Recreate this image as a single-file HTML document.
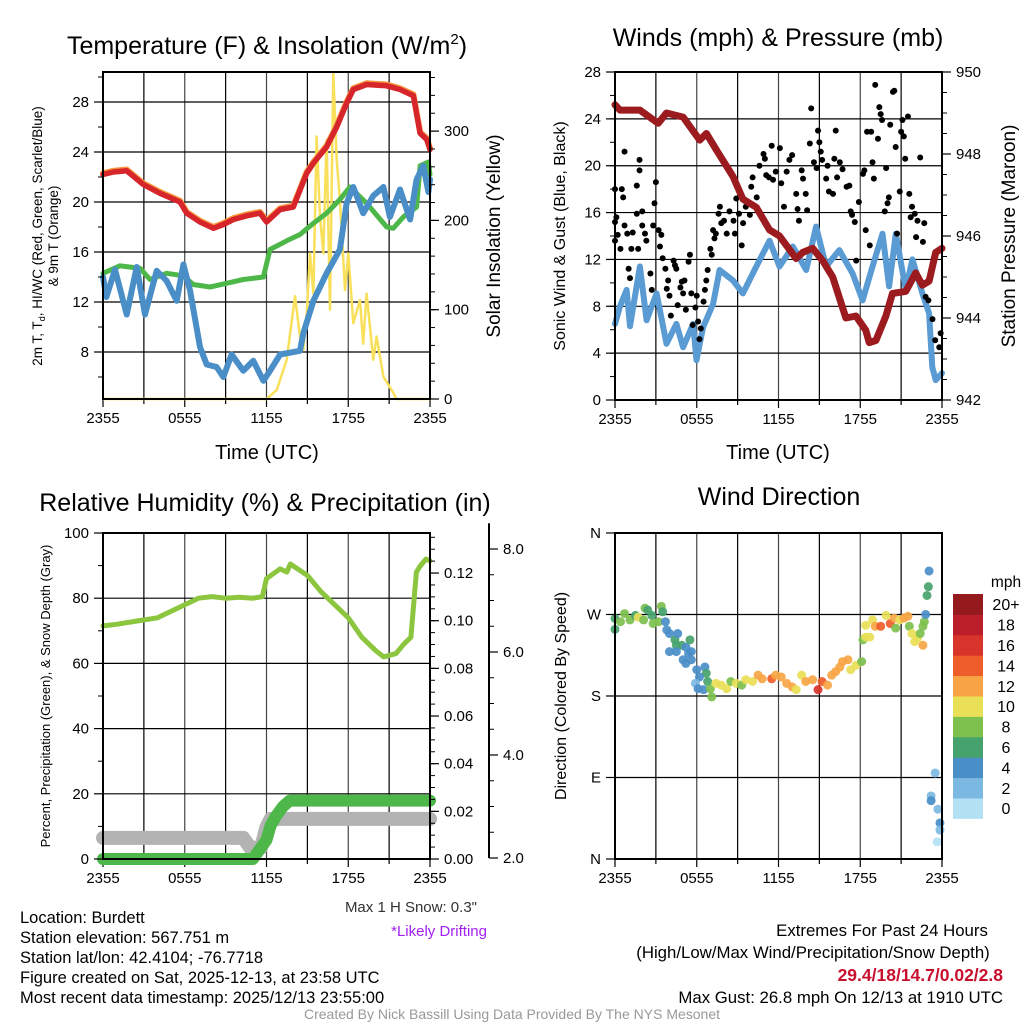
<!DOCTYPE html>
<html><head><meta charset="utf-8">
<style>
html,body{margin:0;padding:0;background:#fff;}
svg{display:block;font-family:"Liberation Sans",Arial,sans-serif;}
</style></head>
<body>
<svg id="chart" xmlns="http://www.w3.org/2000/svg" width="1024" height="1024" viewBox="0 0 1024 1024">
<rect width="1024" height="1024" fill="#fff"/>
<!-- titles -->
<text x="267" y="54" font-size="25" text-anchor="middle">Temperature (F) &amp; Insolation (W/m<tspan font-size="15" dy="-10">2</tspan><tspan dy="10">)</tspan></text>
<text x="778" y="46" font-size="25" text-anchor="middle">Winds (mph) &amp; Pressure (mb)</text>
<text x="265" y="511" font-size="25" text-anchor="middle">Relative Humidity (%) &amp; Precipitation (in)</text>
<text x="779" y="505" font-size="25" text-anchor="middle">Wind Direction</text>
<!-- axis titles -->
<text transform="translate(42,236) rotate(-90)" font-size="13.5" text-anchor="middle">2m T, T<tspan font-size="9" dy="3">d</tspan><tspan dy="-3">, HI/WC (Red, Green, Scarlet/Blue)</tspan></text>
<text transform="translate(58,236) rotate(-90)" font-size="13.5" text-anchor="middle">&amp; 9m T (Orange)</text>
<text transform="translate(500,236) rotate(-90)" font-size="19" text-anchor="middle">Solar Insolation (Yellow)</text>
<text transform="translate(565,236) rotate(-90)" font-size="16" text-anchor="middle">Sonic Wind &amp; Gust (Blue, Black)</text>
<text transform="translate(1015,236) rotate(-90)" font-size="19" text-anchor="middle">Station Pressure (Maroon)</text>
<text transform="translate(50,696) rotate(-90)" font-size="13" text-anchor="middle">Percent, Precipitation (Green), &amp; Snow Depth (Gray)</text>
<text transform="translate(566,696) rotate(-90)" font-size="16" text-anchor="middle">Direction (Colored By Speed)</text>
<text x="267" y="459" font-size="20" text-anchor="middle">Time (UTC)</text>
<text x="778" y="459" font-size="20" text-anchor="middle">Time (UTC)</text>
<!-- footer texts -->
<g font-size="16.5">
<text x="20" y="923">Location: Burdett</text>
<text x="20" y="943">Station elevation: 567.751 m</text>
<text x="20" y="963">Station lat/lon: 42.4104; -76.7718</text>
<text x="20" y="983">Figure created on Sat, 2025-12-13, at 23:58 UTC</text>
<text x="20" y="1003">Most recent data timestamp: 2025/12/13 23:55:00</text>
</g>
<text x="477" y="912" font-size="15" text-anchor="end" fill="#333">Max 1 H Snow: 0.3"</text>
<text x="487" y="936" font-size="15" text-anchor="end" fill="#a020f0">*Likely Drifting</text>
<text x="882" y="936" font-size="16.8" text-anchor="middle">Extremes For Past 24 Hours</text>
<text x="813" y="958" font-size="16.8" text-anchor="middle">(High/Low/Max Wind/Precipitation/Snow Depth)</text>
<text x="1003" y="981" font-size="17.5" font-weight="bold" text-anchor="end" fill="#c8102e">29.4/18/14.7/0.02/2.8</text>
<text x="1003" y="1003" font-size="16.8" text-anchor="end">Max Gust: 26.8 mph On 12/13 at 1910 UTC</text>
<text x="512" y="1019" font-size="14" text-anchor="middle" fill="#999">Created By Nick Bassill Using Data Provided By The NYS Mesonet</text>
</svg>
<script>
// ---------------- data ----------------
const xTickLabels = ["2355","0555","1155","1755","2355"];
// Panel 1
const tempHours = [0,0.76,1.74,2.96,4.18,5.65,6.14,7.12,8.1,8.83,9.57,10.54,11.52,12.01,13,13.97,14.95,15.44,16.41,17.15,17.88,18.37,19.35,20.82,21.8,22.78,23.27,23.76,24];
const tempValues = [22.2,22.4,22.5,21.4,20.7,20.0,19.1,18.4,17.9,18.2,18.6,18.9,19.1,18.4,19.4,19.6,22.3,23.1,24.4,26.0,27.9,29.0,29.4,29.3,29.0,28.5,25.5,25.0,24.2];
const dewHours = [0,1.25,2.72,3.45,4.67,5.9,6.63,7.85,9.07,10.3,11.77,12.26,13.48,14.46,15.44,16.41,17.39,18.13,19.35,20.82,21.3,22.04,23.02,23.27,23.88,24];
const dewValues = [14.3,14.9,14.7,13.8,14.3,14.1,13.4,13.2,13.5,13.8,14.0,16.2,16.9,17.4,18.3,19.1,20.2,21.2,19.9,18.0,17.9,18.8,19.6,22.9,23.2,22.2];
const wcHours = [0,0.25,0.88,1.74,2.47,3.08,3.94,4.67,5.41,5.9,6.39,7.12,7.61,8.34,8.83,9.44,10.3,11.03,11.77,12.26,13,14.46,14.7,15.44,16.41,17.39,17.88,18.37,19.1,19.84,20.58,21.06,21.8,22.54,23.02,23.51,23.88,24];
const wcValues = [14.0,12.4,14.6,11.0,14.8,11.0,14.5,13.7,12.1,15.0,12.9,8.4,7.0,6.8,6.0,7.8,6.5,7.3,5.7,6.5,7.8,8.1,9.5,12.1,14.3,16.2,19.9,21.2,19.1,20.5,21.2,18.8,21.0,18.6,21.8,22.9,20.8,21.8];
const solarHours = [0,12.01,12.75,13.48,14.09,14.46,14.7,14.95,15.19,15.44,15.68,15.93,16.17,16.41,16.66,16.9,17.15,17.39,17.76,18.0,18.37,18.86,19.1,19.35,19.84,20.08,20.58,21.3,21.55,24];
const solarValues = [0,0,10,44,115,70,55,96,163,118,294,204,163,290,100,365,268,223,122,163,85,111,62,118,44,70,25,7,0,0];
const tempTicks = [8,12,16,20,24,28];
const solarTicks = [0,100,200,300];
// Panel 2
const windHours = [0,0.37,0.85,1.1,1.83,2.32,3.05,3.78,4.51,5.0,5.73,5.98,6.46,7.2,7.68,8.66,9.39,10.37,11.34,12.07,13.05,14.03,14.76,15.49,16.46,17.44,18.17,18.9,19.63,20.12,20.61,21.34,21.83,22.56,23.05,23.29,23.54,24];
const windValues = [6.5,8.0,9.4,6.3,11.4,6.8,9.1,4.8,6.5,4.5,6.5,3.4,6.2,8.2,11.1,10.2,9.1,11.4,13.6,11.4,13.1,11.1,14.8,11.4,12.8,10.8,8.5,11.4,14.2,9.7,14.2,9.4,12.0,9.1,7.4,2.8,1.7,2.3];
const pressHours = [0,0.37,1.83,3.17,3.78,5.0,6.22,6.71,7.44,8.66,9.39,10.37,11.34,12.07,13.29,13.78,14.51,15.24,15.98,16.95,17.68,18.41,18.66,19.15,19.88,20.37,21.34,22.07,22.56,23.05,23.54,24];
const pressValues = [949.2,949.07,949.07,948.75,949.0,948.9,948.34,948.5,948.1,947.45,946.9,946.7,946.15,946.0,945.45,945.6,945.7,945.4,945.0,944.0,944.05,943.7,943.4,943.45,944.05,944.6,944.65,945.1,944.8,944.9,945.6,945.7];
const gustHours = [0,0,0.1,0.4,0.2,0,0.5,0.6,0.7,0.7,0.9,1.0,1.1,1.2,1.3,1.6,1.6,1.7,1.8,1.8,2.0,2.0,2.2,2.3,2.6,2.7,2.8,2.9,3.0,3.2,3.3,3.4,3.5,3.7,3.8,3.9,4.0,4.1,4.3,4.4,4.5,4.6,4.8,4.9,5.0,5.1,5.2,5.4,5.5,5.6,5.7,5.9,6.0,6.1,6.2,6.3,6.5,6.6,6.7,6.8,7.0,7.1,7.2,7.3,7.4,7.6,7.7,7.8,8.0,8.2,8.4,8.7,8.8,8.9,9.1,9.3,9.4,9.6,9.9,10.0,10.1,10.4,10.6,10.9,11.0,11.1,11.3,11.5,11.6,11.8,12.1,12.2,12.4,12.6,12.8,13.0,13.3,13.4,13.5,13.7,13.8,14.0,14.1,14.3,14.4,14.6,14.8,14.9,15.0,15.1,15.2,15.5,15.6,15.7,16.0,16.1,16.2,16.3,16.5,16.7,17.0,17.2,17.3,17.4,17.6,17.7,17.9,18.2,18.3,18.4,18.5,18.7,18.8,18.9,19.0,19.1,19.3,19.4,19.5,19.6,19.8,19.9,20.0,20.1,20.2,20.4,20.5,20.6,20.7,20.9,21.0,21.1,21.2,21.3,21.5,21.6,21.7,21.8,22.0,22.1,22.2,22.4,22.6,22.7,22.8,23.0,23.3,23.5,23.8,23.9];
const gustValues = [15.2,13.6,15.6,12.9,14.1,18.0,18.0,17.3,21.2,14.9,14.2,11.2,10.4,12.9,14.3,15.9,18.3,12.9,20.5,19.6,16.1,14.9,14.2,13.6,10.8,9.4,14.9,16.8,18.6,14.5,13.1,14.1,12.1,11.2,9.5,10.2,8.9,7.2,11.9,11.5,11.2,8.1,9.6,10.1,9.1,10.2,7.7,11.8,12.4,9.1,6.4,7.9,8.9,6.7,5.2,6.1,8.4,9.4,10.2,11.1,12.9,12.4,14.5,13.8,14.2,15.9,16.5,15.1,15.3,14.2,16.1,15.3,14.2,17.2,15.9,13.2,15.1,16.5,15.8,18.2,19.0,17.3,20.0,21.0,20.6,19.2,19.0,21.7,18.8,19.5,21.5,18.5,16.5,19.5,20.5,20.9,17.6,16.3,15.3,19.6,18.9,17.6,16.2,21.9,24.9,20.3,19.8,23.0,22.0,21.2,20.5,18.9,20.0,17.8,17.6,20.6,23.0,19.0,20.3,19.7,18.2,18.3,16.1,15.8,15.2,11.9,16.9,19.3,19.6,14.5,22.9,13.2,22.9,20.3,18.9,26.9,22.3,25.0,24.4,23.9,16.1,19.8,16.8,17.3,23.5,26.3,26.4,21.6,14.2,17.8,22.9,23.9,22.5,20.6,24.2,17.6,15.6,16.5,15.9,13.9,15.3,20.7,13.5,15.1,8.8,8.5,6.9,5.1,4.5,5.7];
const windTicks = [0,4,8,12,16,20,24,28];
const pressTicks = [942,944,946,948,950];
// Panel 3
const rhHours = [0,1,2.5,4,5,6,7,8,9,10,11,11.7,12,13,13.5,13.75,15,16,17,18,19,20,20.6,21.5,22.1,22.6,23.0,23.3,23.7,24];
const rhValues = [71.5,72,73,74,76,78,80,80.5,80,80.3,80,80.5,86,89,88,90.5,87,82,78,74,68,64,62,63,66,68,88,90,92,91.5];
const precipHours = [0,11.0,11.5,12,12.3,12.7,13.2,13.7,24];
const precipValues = [0,0,0.004,0.008,0.014,0.018,0.022,0.0245,0.0245];
const snowHours = [0,10.3,10.8,11.6,12.0,12.3,24];
const snowValues = [2.39,2.39,2.2,2.2,2.6,2.76,2.76];
const driftHours = [11.7,11.9,12.1];
const driftValues = [2.3,2.45,2.6];
const pctTicks = [0,20,40,60,80,100];
const precipTicks = [0,0.02,0.04,0.06,0.08,0.10,0.12];
const precipTickLabels = ["0.00","0.02","0.04","0.06","0.08","0.10","0.12"];
const snowTicks = [2,4,6,8];
const snowTickLabels = ["2.0","4.0","6.0","8.0"];
// Panel 4
const dirHours = [0,0,0.4,0.7,1.1,1.5,1.7,2.1,2.2,2.4,2.7,2.8,3.2,3.4,3.5,3.7,3.8,4.0,4.4,4.6,4.5,4.9,5.2,5.5,4.0,4.5,5.4,5.6,5.0,5.2,5.6,6.0,6.6,6.7,6.2,5.9,6.1,6.5,6.8,7.0,7.1,7.4,7.8,8.2,8.5,8.9,9.3,9.6,10.1,10.5,10.8,11.5,11.8,12.2,12.6,13.0,13.3,13.7,14.0,14.5,14.9,15.2,15.6,15.9,16.2,16.5,16.7,17.1,17.3,17.7,18.1,18.2,18.4,18.7,18.4,18.9,19.1,19.5,19.9,20.2,20.5,20.6,20.9,21.2,21.5,21.6,21.8,22.0,22.2,22.4,22.6,22.7,22.8,22.9,22.6,23.05,23.0,23.5,23.2,23.2,23.7,23.85,23.85,23.65];
const dirValues = [265.7,253.6,262,271,264,269,267,264,277,275,269,260,262,279,273,262,253,249,242,249,236,236,234,242,229,229,227,229,220,216,220,209,212,205,201,194,188,187,196,188,179,194,192,188,196,194,192,198,196,203,199,199,203,201,194,190,187,203,196,198,187,196,192,203,207,212,218,220,209,214,218,242,245,245,258,264,257,257,269,260,266,255,264,266,268,257,249,240,244,249,257,262,270,291,236,318,300.7,95,69.6,64.4,55,39.8,32,19];
const dirSpeeds = [7,6.5,8.5,8.5,8.5,6.5,10.5,8.5,8.5,6.5,6.5,8.5,8.5,8.5,6.5,4.5,4.5,4.5,6.5,4.5,6.5,6.5,4.5,6.5,4.5,4.5,4.5,4.5,4.5,4.5,4.5,4.5,4.5,6.5,4.5,2.5,4.5,4.5,6.5,8.5,8.5,10.5,10.5,10.5,8.5,10.5,8.5,10.5,10.5,12.5,12.5,14.5,12.5,12.5,12.5,12.5,10.5,10.5,12.5,12.5,16.5,14.5,12.5,12.5,12.5,12.5,12.5,12.5,10.5,10.5,8.5,8.5,10.5,10.5,10.5,10.5,12.5,14.5,10.5,14.5,12.5,8.5,10.5,12.5,12.5,8.5,10.5,10.5,10.5,8.5,8.5,8.5,4.5,6.5,12.5,4.5,6.5,2.5,2.5,4.5,2.5,4.5,2.5,0.5];
const dirTicks = [0,90,180,270,360];
const dirTickLabels = ["N","E","S","W","N"];
const colorBins = ["0","2","4","6","8","10","12","14","16","18","20+"];
const colorBinColors = ["#b5e1f5","#7cb9e2","#4a8ec8","#46a36d","#7dc04e","#e9e057","#f7a544","#ef5d2b","#d8342b","#bc1e2a","#941a1d"];

// ---------------- helpers ----------------
const NS = "http://www.w3.org/2000/svg";
const svg = document.getElementById("chart");
function mk(tag, attrs, parent) {
  const e = document.createElementNS(NS, tag);
  for (const k in attrs) e.setAttribute(k, attrs[k]);
  (parent || svg).appendChild(e);
  return e;
}
function txt(s, attrs) { const e = mk("text", attrs); e.textContent = s; return e; }
function xs(P, h) { return P.L + h * (P.R - P.L) / 24; }
function linePath(P, hours, vals, yf) {
  return hours.map((h, i) => (i ? "L" : "M") + xs(P, h).toFixed(1) + " " + yf(vals[i]).toFixed(1)).join(" ");
}
const P1 = {L:103, R:430, T:72, B:399};
const P2 = {L:615, R:942, T:72, B:400};
const P3 = {L:103, R:430, T:533, B:859};
const P4 = {L:615, R:942, T:533, B:859};
const yTemp = v => 352 - (v - 8) * 12.5;
const ySolar = v => 399 - v * 0.893;
const yWind = v => 400 - v * 11.714;
const yPress = v => 400 - (v - 942) * 41;
const yPct = v => 859 - v * 3.26;
const yPrecip = v => 859 - v * 2383;
const ySnow = v => 858 - (v - 2) * 51.5;
const yDir = v => 859 - v * 0.9056;

function frame(P, id, hGrid) {
  for (let h = 3; h < 24; h += 3) {
    const g = mk("line", {x1:xs(P,h), x2:xs(P,h), y1:P.T, y2:P.B, stroke:(h%6===0?"#444":"#000"), "stroke-width":1.2});
    
    
  }
  hGrid.forEach(y => {
    const g = mk("line", {x1:P.L, x2:P.R, y1:y, y2:y, stroke:"#000", "stroke-width":1.2});
    
    
  });
  for (let h = 0; h <= 24; h += 3) {
    const t = mk("line", {x1:xs(P,h), x2:xs(P,h), y1:P.B, y2:P.B + (h%6===0?8:5), stroke:"#000", "stroke-width":1.2});
    
    
  }
  xTickLabels.forEach((s, i) => {
    const t = txt(s, {x:xs(P, i*6), y:P.B + 24, "font-size":15, "text-anchor":"middle"});
    
    
  });
}
function border(P, id) {
  const b = mk("rect", {x:P.L, y:P.T, width:P.R-P.L, height:P.B-P.T, fill:"none", stroke:"#000", "stroke-width":2});
  
  
}
function yAxis(x, vals, labels, yf, side, id, minorVals, fs) {
  const d = side === "left" ? -1 : 1;
  (minorVals || []).forEach(v => {
    const t = mk("line", {x1:x, x2:x + d*5, y1:yf(v), y2:yf(v), stroke:"#000", "stroke-width":1});
    
    
  });
  vals.forEach((v, i) => {
    const t = mk("line", {x1:x, x2:x + d*9, y1:yf(v), y2:yf(v), stroke:"#000", "stroke-width":1.2});
    
    
    const l = txt(labels[i], {x: x + d*14, y: yf(v) + 5, "font-size": fs || 15, "text-anchor": side === "left" ? "end" : "start"});
    
    
  });
}
function range(a, b, s) { const r = []; for (let v = a; v <= b + 1e-9; v += s) r.push(+v.toFixed(4)); return r; }
function speedColor(s) { return colorBinColors[Math.min(10, Math.max(0, Math.floor(s / 2)))]; }

// ---------------- Panel 1 ----------------
frame(P1, "temperature-panel", tempTicks.map(yTemp));
let e;
e = mk("path", {d:linePath(P1, solarHours, solarValues, ySolar), fill:"none", stroke:"#f9e05a", "stroke-width":2.5, "stroke-linejoin":"round"});


e = mk("path", {d:linePath(P1, dewHours, dewValues, yTemp), fill:"none", stroke:"#4db849", "stroke-width":5, "stroke-linejoin":"round", "stroke-linecap":"round"});


e = mk("path", {d:linePath(P1, wcHours, wcValues, yTemp), fill:"none", stroke:"#4a8ec8", "stroke-width":6, "stroke-linejoin":"round", "stroke-linecap":"round"});


e = mk("path", {d:linePath(P1, tempHours, tempValues.map(v => v + 0.1), yTemp), fill:"none", stroke:"#f7953c", "stroke-width":6, "stroke-linejoin":"round", "stroke-linecap":"round"});


e = mk("path", {d:linePath(P1, tempHours, tempValues, yTemp), fill:"none", stroke:"#d7262b", "stroke-width":5.5, "stroke-linejoin":"round", "stroke-linecap":"round"});


border(P1, "temperature-panel");
yAxis(P1.L, tempTicks, tempTicks.map(String), yTemp, "left", "temperature-y-axis", range(6, 30, 2));
yAxis(P1.R, solarTicks, solarTicks.map(String), ySolar, "right", "solar-y-axis", range(0, 360, 20));

// ---------------- Panel 2 ----------------
frame(P2, "winds-panel", windTicks.slice(1, -1).map(yWind));
e = mk("path", {d:linePath(P2, windHours, windValues, yWind), fill:"none", stroke:"#5a9bd4", "stroke-width":6, "stroke-linejoin":"round", "stroke-linecap":"round"});


gustHours.forEach((h, i) => {
  const c = mk("circle", {cx:xs(P2, h), cy:yWind(gustValues[i]), r:3, fill:"#000"});
  
  
});
e = mk("path", {d:linePath(P2, pressHours, pressValues, yPress), fill:"none", stroke:"#9b1b1f", "stroke-width":7, "stroke-linejoin":"round", "stroke-linecap":"round"});


border(P2, "winds-panel");
yAxis(P2.L, windTicks, windTicks.map(String), yWind, "left", "wind-y-axis", range(2, 26, 2));
yAxis(P2.R, pressTicks, pressTicks.map(String), yPress, "right", "pressure-y-axis", range(942.5, 949.5, 0.5));

// ---------------- Panel 3 ----------------
frame(P3, "humidity-panel", pctTicks.slice(1, -1).map(yPct));
e = mk("path", {d:linePath(P3, snowHours, snowValues, ySnow), fill:"none", stroke:"#b3b3b3", "stroke-width":14, "stroke-linejoin":"round", "stroke-linecap":"round"});


driftHours.forEach((h, i) => {
  const c = mk("circle", {cx:xs(P3, h), cy:ySnow(driftValues[i]), r:3, fill:"#a020f0"});
  
  
});
e = mk("path", {d:linePath(P3, precipHours, precipValues, yPrecip), fill:"none", stroke:"#4db849", "stroke-width":12, "stroke-linejoin":"round", "stroke-linecap":"round"});


e = mk("path", {d:linePath(P3, rhHours, rhValues, yPct), fill:"none", stroke:"#8cc63f", "stroke-width":5, "stroke-linejoin":"round", "stroke-linecap":"round"});


border(P3, "humidity-panel");
yAxis(P3.L, pctTicks, pctTicks.map(String), yPct, "left", "percent-y-axis", range(10, 90, 20), 15);
yAxis(P3.R, precipTicks, precipTickLabels, yPrecip, "right", "precipitation-y-axis", range(0.005, 0.135, 0.005), 15);
e = mk("line", {x1:489, x2:489, y1:ySnow(8.5), y2:ySnow(2), stroke:"#000", "stroke-width":2});


yAxis(489, snowTicks, snowTickLabels, ySnow, "right", "snow-depth-y-axis", range(2.5, 8, 0.5).filter(v => v % 2 !== 0), 15);

// ---------------- Panel 4 ----------------
frame(P4, "direction-panel", [90,180,270].map(yDir));
dirHours.forEach((h, i) => {
  const c = mk("circle", {cx:xs(P4, h), cy:yDir(dirValues[i]), r:4.5, fill:speedColor(dirSpeeds[i]), "fill-opacity":0.92});
  
  
});
border(P4, "direction-panel");
yAxis(P4.L, dirTicks, dirTickLabels, yDir, "left", "direction-y-axis", [], 15);
const cbTop = 594, cbH = 20.4;
colorBins.forEach((lab, i) => {
  const y = cbTop + (10 - i) * cbH;
  const r = mk("rect", {x:953, y:y, width:30, height:cbH + 0.5, fill:colorBinColors[i]});
  
  
  const t = txt(lab, {x:1006, y:y + cbH/2 + 6, "font-size":16, "text-anchor":"middle"});
  
  
});
e = txt("mph", {x:1006, y:587, "font-size":15.5, "text-anchor":"middle"});


</script>
</body></html>
